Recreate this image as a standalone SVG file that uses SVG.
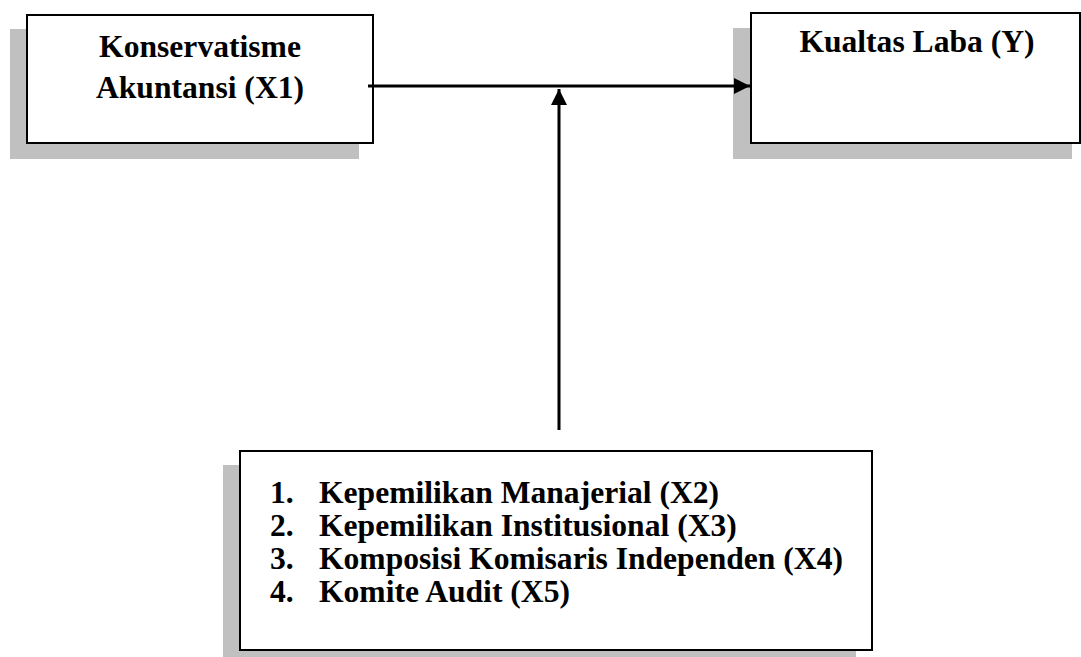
<svg xmlns="http://www.w3.org/2000/svg" width="1081" height="657" viewBox="0 0 1081 657">
<style>
.shadow{fill:#c0c0c0;stroke:none}
.box{fill:#fff;stroke:#000;stroke-width:2}
.t{font-family:"Liberation Serif","Times New Roman",serif;font-weight:bold;font-size:31.6px;fill:#000}
.c{text-anchor:middle}
.edge{stroke:#000;stroke-width:3;fill:none}
</style>
<defs>
<marker id="ah" markerUnits="userSpaceOnUse" markerWidth="18" markerHeight="16" refX="16" refY="8" orient="auto">
<path d="M0,0 L16,8 L0,16 Z" fill="#000"/>
</marker>
</defs>
<rect width="1081" height="657" fill="#fff"/>
<g id="node-x1">
<rect class="shadow" x="10" y="29" width="349" height="130"/>
<rect class="box" x="27" y="15" width="346" height="128"/>
<text class="t c" x="200" y="57">Konservatisme</text>
<text class="t c" x="200" y="98">Akuntansi (X1)</text>
</g>
<g id="node-y">
<rect class="shadow" x="733" y="28" width="339" height="131"/>
<rect class="box" x="751" y="13" width="329" height="130"/>
<text class="t c" x="917" y="52">Kualtas Laba (Y)</text>
</g>
<g id="node-moderators">
<rect class="shadow" x="223" y="465" width="633" height="200"/>
<rect class="box" x="240" y="451" width="632" height="199"/>
<text class="t" x="270" y="503">1.</text><text class="t" x="319" y="503">Kepemilikan Manajerial (X2)</text>
<text class="t" x="270" y="536">2.</text><text class="t" x="319" y="536">Kepemilikan Institusional (X3)</text>
<text class="t" x="270" y="569">3.</text><text class="t" x="319" y="569">Komposisi Komisaris Independen (X4)</text>
<text class="t" x="270" y="602">4.</text><text class="t" x="319" y="602">Komite Audit (X5)</text>
</g>
<g id="connectors">
<line class="edge" x1="368" y1="86" x2="750" y2="86" marker-end="url(#ah)"/>
<line class="edge" x1="559" y1="430" x2="559" y2="89" marker-end="url(#ah)"/>
</g>
</svg>
